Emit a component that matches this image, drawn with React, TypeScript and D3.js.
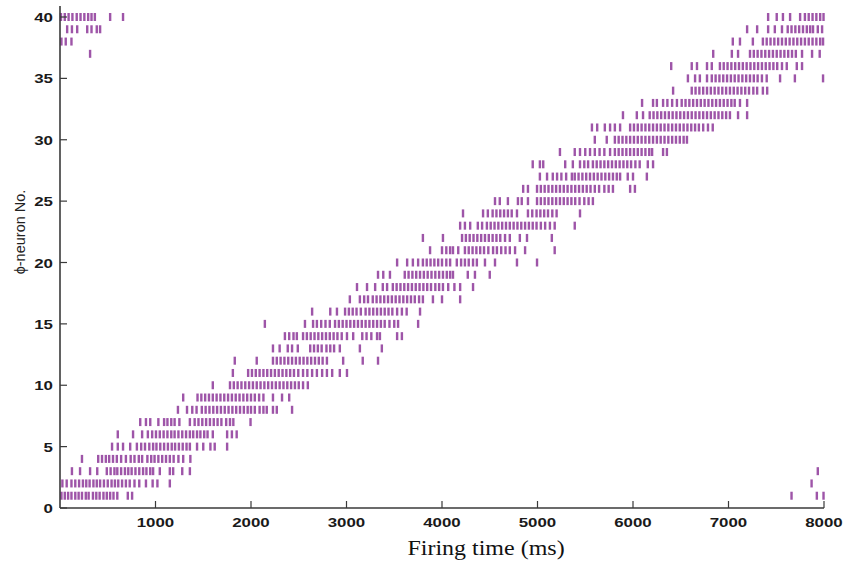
import React from "react";
import * as d3 from "d3";

// Firing times (ms) of each φ-neuron, neuron 1 … 40
const n01 = [15, 50, 85, 120, 160, 195, 230, 270, 300, 345, 380, 415, 455, 490, 525, 560, 600, 710, 755, 7660, 7925, 7995];
const n02 = [25, 70, 120, 160, 200, 240, 275, 310, 350, 385, 420, 460, 500, 540, 575, 610, 650, 690, 730, 780, 830, 900, 970, 1020, 1150, 7870];
const n03 = [125, 210, 315, 390, 490, 530, 570, 600, 640, 680, 715, 750, 790, 830, 870, 905, 945, 975, 1045, 1150, 1185, 1280, 1360, 7935];
const n04 = [230, 400, 440, 480, 515, 555, 595, 640, 690, 740, 780, 825, 860, 915, 955, 990, 1030, 1070, 1110, 1150, 1190, 1240, 1290, 1365];
const n05 = [545, 605, 660, 735, 805, 850, 890, 935, 975, 1010, 1050, 1090, 1130, 1170, 1205, 1245, 1285, 1325, 1360, 1435, 1500, 1575, 1620, 1750];
const n06 = [605, 765, 860, 920, 965, 1005, 1045, 1085, 1125, 1165, 1200, 1240, 1280, 1320, 1360, 1395, 1435, 1470, 1510, 1545, 1600, 1750, 1800, 1850];
const n07 = [840, 900, 945, 1030, 1090, 1125, 1165, 1200, 1250, 1360, 1410, 1450, 1490, 1530, 1570, 1610, 1650, 1690, 1740, 1780, 1815, 1995];
const n08 = [1235, 1330, 1385, 1430, 1485, 1525, 1565, 1605, 1645, 1685, 1725, 1765, 1805, 1845, 1885, 1925, 1965, 2000, 2040, 2090, 2130, 2165, 2230, 2270, 2430];
const n09 = [1290, 1440, 1480, 1520, 1560, 1600, 1640, 1680, 1720, 1760, 1800, 1840, 1880, 1920, 1960, 2000, 2040, 2085, 2130, 2230, 2325, 2400];
const n10 = [1600, 1780, 1820, 1860, 1900, 1940, 1980, 2020, 2060, 2100, 2140, 2180, 2220, 2260, 2300, 2340, 2380, 2420, 2460, 2500, 2545, 2595];
const n11 = [1810, 1970, 2010, 2050, 2090, 2130, 2170, 2210, 2250, 2290, 2330, 2370, 2410, 2450, 2495, 2545, 2590, 2640, 2690, 2745, 2795, 2850, 2930, 3005];
const n12 = [1830, 2060, 2230, 2270, 2310, 2350, 2390, 2430, 2470, 2510, 2550, 2590, 2630, 2670, 2710, 2750, 2795, 2965, 3170, 3330];
const n13 = [2230, 2300, 2385, 2430, 2490, 2620, 2660, 2700, 2740, 2790, 2830, 2870, 2930, 3140, 3370];
const n14 = [2355, 2400, 2445, 2480, 2545, 2585, 2625, 2665, 2705, 2745, 2785, 2825, 2865, 2905, 2950, 3005, 3070, 3165, 3210, 3260, 3320, 3350, 3530, 3580];
const n15 = [2145, 2565, 2650, 2690, 2735, 2780, 2825, 2880, 2920, 2960, 3000, 3040, 3080, 3120, 3160, 3200, 3240, 3280, 3320, 3360, 3400, 3450, 3500, 3540, 3750];
const n16 = [2640, 2830, 2900, 2985, 3025, 3065, 3105, 3150, 3200, 3240, 3280, 3320, 3360, 3400, 3440, 3480, 3530, 3580, 3630, 3770];
const n17 = [3035, 3140, 3185, 3225, 3275, 3315, 3355, 3395, 3435, 3475, 3515, 3555, 3595, 3635, 3675, 3715, 3760, 3800, 3905, 4000, 4190];
const n18 = [3110, 3215, 3300, 3380, 3425, 3485, 3525, 3565, 3605, 3645, 3685, 3725, 3765, 3805, 3845, 3885, 3930, 3970, 4010, 4065, 4130, 4190, 4325];
const n19 = [3330, 3385, 3455, 3610, 3650, 3690, 3730, 3770, 3810, 3850, 3890, 3930, 3970, 4010, 4050, 4085, 4115, 4270, 4345, 4500];
const n20 = [3530, 3635, 3695, 3750, 3800, 3840, 3880, 3920, 3960, 4000, 4045, 4085, 4155, 4200, 4240, 4280, 4325, 4365, 4450, 4555, 4785, 4995];
const n21 = [3875, 4000, 4045, 4085, 4115, 4170, 4240, 4280, 4320, 4360, 4400, 4440, 4485, 4535, 4575, 4620, 4665, 4710, 4765, 4870, 5180];
const n22 = [3800, 4010, 4210, 4250, 4290, 4330, 4370, 4410, 4450, 4490, 4530, 4570, 4610, 4660, 4710, 4815, 4890, 5150];
const n23 = [4190, 4240, 4295, 4375, 4420, 4470, 4510, 4550, 4590, 4630, 4670, 4710, 4750, 4790, 4830, 4870, 4910, 4950, 4990, 5035, 5080, 5130, 5180, 5390];
const n24 = [4220, 4430, 4480, 4530, 4570, 4610, 4650, 4690, 4730, 4785, 4900, 4945, 4990, 5030, 5070, 5110, 5155, 5200, 5445];
const n25 = [4555, 4605, 4690, 4795, 4835, 4900, 4995, 5035, 5075, 5115, 5155, 5195, 5235, 5275, 5315, 5355, 5395, 5440, 5490, 5535, 5580];
const n26 = [4850, 4900, 4995, 5035, 5075, 5115, 5155, 5195, 5235, 5275, 5315, 5355, 5395, 5435, 5475, 5515, 5555, 5600, 5645, 5700, 5745, 5790, 5970, 6020];
const n27 = [5025, 5100, 5160, 5205, 5250, 5300, 5360, 5390, 5430, 5470, 5510, 5550, 5590, 5630, 5670, 5710, 5750, 5790, 5830, 5865, 5945, 6000, 6145];
const n28 = [4950, 5025, 5060, 5290, 5370, 5445, 5490, 5530, 5580, 5620, 5660, 5700, 5740, 5780, 5820, 5860, 5900, 5940, 5980, 6025, 6070, 6155, 6210];
const n29 = [5235, 5390, 5445, 5500, 5550, 5600, 5650, 5700, 5760, 5810, 5850, 5890, 5930, 5970, 6010, 6050, 6090, 6130, 6170, 6200, 6315, 6355];
const n30 = [5600, 5725, 5810, 5850, 5890, 5930, 5970, 6010, 6050, 6090, 6130, 6170, 6210, 6250, 6290, 6330, 6370, 6410, 6450, 6490, 6530, 6565];
const n31 = [5570, 5625, 5705, 5760, 5810, 5865, 5970, 6010, 6050, 6090, 6130, 6170, 6210, 6250, 6290, 6330, 6370, 6410, 6450, 6490, 6530, 6570, 6610, 6650, 6690, 6735, 6785, 6835];
const n32 = [5895, 6040, 6105, 6175, 6215, 6255, 6295, 6335, 6375, 6415, 6455, 6495, 6535, 6575, 6615, 6655, 6695, 6735, 6775, 6815, 6855, 6895, 6935, 6975, 7015, 7100, 7195];
const n33 = [6095, 6210, 6250, 6315, 6360, 6410, 6460, 6510, 6550, 6590, 6630, 6670, 6710, 6750, 6790, 6830, 6870, 6910, 6950, 6990, 7030, 7065, 7120, 7195];
const n34 = [6420, 6615, 6655, 6695, 6735, 6775, 6815, 6855, 6895, 6935, 6975, 7015, 7055, 7095, 7135, 7175, 7215, 7260, 7300, 7360, 7405];
const n35 = [6575, 6650, 6700, 6775, 6825, 6865, 6905, 6945, 6985, 7025, 7065, 7105, 7145, 7185, 7225, 7265, 7305, 7350, 7400, 7540, 7695, 7990];
const n36 = [6400, 6615, 6670, 6775, 6825, 6910, 6950, 6990, 7030, 7070, 7110, 7150, 7190, 7230, 7270, 7310, 7350, 7390, 7430, 7470, 7510, 7560, 7610, 7715, 7770];
const n37 = [315, 6840, 7035, 7100, 7225, 7265, 7305, 7345, 7385, 7425, 7465, 7505, 7545, 7585, 7625, 7665, 7705, 7770, 7875, 7955];
const n38 = [15, 60, 120, 7045, 7120, 7255, 7360, 7400, 7440, 7480, 7520, 7560, 7600, 7640, 7680, 7720, 7760, 7800, 7840, 7880, 7920, 7960, 7990];
const n39 = [75, 125, 180, 285, 330, 385, 420, 7195, 7300, 7415, 7485, 7560, 7620, 7660, 7700, 7740, 7780, 7820, 7855, 7885, 7935, 7980];
const n40 = [10, 50, 90, 130, 175, 215, 255, 295, 330, 365, 525, 660, 7415, 7505, 7570, 7645, 7750, 7800, 7840, 7880, 7920, 7960, 7995];

const spikeTrains = [
  n01, n02, n03, n04, n05, n06, n07, n08, n09, n10,
  n11, n12, n13, n14, n15, n16, n17, n18, n19, n20,
  n21, n22, n23, n24, n25, n26, n27, n28, n29, n30,
  n31, n32, n33, n34, n35, n36, n37, n38, n39, n40,
];

const xTicks = [1000, 2000, 3000, 4000, 5000, 6000, 7000, 8000];
const yTicks = [0, 5, 10, 15, 20, 25, 30, 35, 40];

const W = 845;
const H = 567;
const x = d3.scaleLinear().domain([0, 8000]).range([60, 824]);
const y = d3.scaleLinear().domain([0, 40]).range([508, 17]);

const AXIS = "#3a3a3a";
const SPIKE = "#862a92";
const tickFont = "'Liberation Sans', Arial, Helvetica, sans-serif";

export default function App() {
  const spikes = spikeTrains.flatMap((times, i) =>
    times.map((t) => ({ neuron: i + 1, t }))
  );

  return (
    <svg
      width={W}
      height={H}
      viewBox={`0 0 ${W} ${H}`}
      style={{ position: "absolute", left: 0, top: 0, background: "#fff" }}
    >
      <rect width={W} height={H} fill="#fff" />

      {/* raster */}
      <g>
        {spikes.map((s, k) => (
          <rect
            key={k}
            x={x(s.t) - 1.2}
            y={y(s.neuron) - 4}
            width={2.4}
            height={8}
            fill={SPIKE}
            fillOpacity={0.8}
          />
        ))}
      </g>

      {/* y axis */}
      <line x1={60} x2={60} y1={y(0)} y2={6} stroke={AXIS} strokeWidth={1.6} />
      {yTicks.map((v) => (
        <g key={`y${v}`}>
          <line x1={60} x2={67} y1={y(v)} y2={y(v)} stroke={AXIS} strokeWidth={1.2} />
          <text
            transform={`translate(53,${y(v) + 5}) scale(1.25,1)`}
            textAnchor="end"
            fontFamily={tickFont}
            fontSize={13.5}
            fontWeight="bold"
            fill="#1a1a1a"
          >
            {v}
          </text>
        </g>
      ))}

      {/* x axis */}
      <line x1={60} x2={x(8000)} y1={y(0)} y2={y(0)} stroke={AXIS} strokeWidth={1.6} />
      {xTicks.map((v) => (
        <g key={`x${v}`}>
          <line x1={x(v)} x2={x(v)} y1={y(0)} y2={y(0) - 7} stroke={AXIS} strokeWidth={1.2} />
          <text
            transform={`translate(${x(v)},527) scale(1.25,1)`}
            textAnchor="middle"
            fontFamily={tickFont}
            fontSize={13.5}
            fontWeight="bold"
            fill="#1a1a1a"
          >
            {v}
          </text>
        </g>
      ))}

      {/* axis titles */}
      <text
        transform={`translate(${(60 + 824) / 2 + 44},555) scale(1.2,1)`}
        textAnchor="middle"
        fontFamily="'Liberation Serif', 'Times New Roman', serif"
        fontSize={20}
        fill="#111"
      >
        Firing time (ms)
      </text>
      <text
        transform="translate(25,232) rotate(-90)"
        textAnchor="middle"
        fontFamily={tickFont}
        fontSize={14.5}
        fill="#222"
      >
        ϕ-neuron No.
      </text>
    </svg>
  );
}
